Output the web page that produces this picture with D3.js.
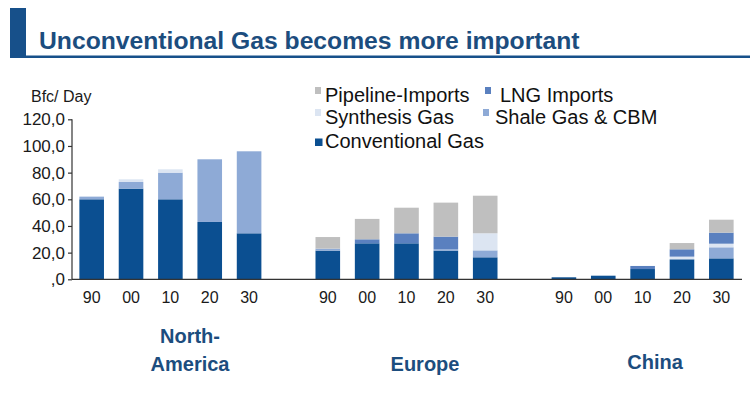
<!DOCTYPE html>
<html lang="en">
<head>
<meta charset="UTF-8">
<title>Unconventional Gas becomes more important</title>
<script src="https://d3js.org/d3.v7.min.js"></script>
<style>
  * { margin: 0; padding: 0; box-sizing: border-box; }
  html, body { width: 750px; height: 398px; background: #fff; overflow: hidden; }
  svg { display: block; font-family: "Liberation Sans", Arial, sans-serif; }
  .axis text { font-size: 17px; fill: #1a1a1a; }
  .axis path, .axis line { stroke: #333; stroke-width: 1.2; }
</style>
</head>
<body>
<svg id="chart" width="750" height="398"></svg>
<script>
// data (Bfc/ Day)
const regions = ["North-America", "Europe", "China"];
const years = ["90", "00", "10", "20", "30"];
const yTicks = [0, 20, 40, 60, 80, 100, 120];

// one value per bar: North-America 90..30, Europe 90..30, China 90..30
const conventional = [60, 68, 60, 43, 34.5,   21.5, 27, 27, 21.5, 16.5,   1.5, 2.7, 7.7, 15, 15.7];
const shale        = [2, 5, 20, 47, 61.5,     1.5, 0, 0, 1, 5.2,          0, 0, 0, 0, 8.3];
const synthesis    = [0, 2, 2.5, 0, 0,        0, 0, 0, 0, 12.8,           0, 0, 0, 2, 2.7];
const lng          = [0, 0, 0, 0, 0,          0, 3, 7.5, 9.5, 0,          0, 0, 2.3, 5.5, 8.3];
const pipeline     = [0, 0, 0, 0, 0,          8.7, 15.3, 19.2, 25.5, 28.2, 0, 0, 0, 4.7, 9.7];

// stacking order bottom -> top
const series = [
  { name: "Conventional Gas", values: conventional, color: "#0b4f91" },
  { name: "Shale Gas & CBM",  values: shale,        color: "#8eaad6" },
  { name: "Synthesis Gas",    values: synthesis,    color: "#dce5f2" },
  { name: "LNG Imports",      values: lng,          color: "#5a80bf" },
  { name: "Pipeline-Imports", values: pipeline,     color: "#bfbfbf" }
];

const svg = d3.select("#chart");

// header
svg.append("rect").attr("x", 10).attr("y", 8).attr("width", 16).attr("height", 50)
  .attr("fill", "#17508a");
svg.append("rect").attr("x", 10).attr("y", 55.5).attr("width", 740).attr("height", 2.5)
  .attr("fill", "#17508a");
svg.append("text").attr("x", 39).attr("y", 49)
  .attr("font-size", 24.7).attr("font-weight", "bold").attr("fill", "#1c4d7e")
  .text("Unconventional Gas becomes more important");

// slots: 5 bars per region with one empty slot between regions
const slots = [];
regions.forEach((r, i) => {
  if (i > 0) slots.push("gap" + i);
  years.forEach(y => slots.push(r + "|" + y));
});

const x = d3.scaleBand().domain(slots).range([72, 741])
  .paddingInner(0.375).paddingOuter(0.1875);
const y = d3.scaleLinear().domain([0, 120]).range([279.3, 119.3]);

// rows for stacking
const rows = [];
regions.forEach((r, ri) => {
  years.forEach((yr, yi) => {
    const idx = ri * years.length + yi;
    const row = { key: r + "|" + yr };
    series.forEach(s => { row[s.name] = s.values[idx]; });
    rows.push(row);
  });
});

const stack = d3.stack().keys(series.map(s => s.name));
const layers = stack(rows);

svg.append("g").selectAll("g")
  .data(layers)
  .join("g")
  .attr("fill", (d, i) => series[i].color)
  .selectAll("rect")
  .data(d => d.filter(p => p[1] - p[0] > 0))
  .join("rect")
  .attr("x", d => x(d.data.key))
  .attr("width", x.bandwidth())
  .attr("y", d => y(d[1]))
  .attr("height", d => y(d[0]) - y(d[1]));

// y axis
const yAxis = svg.append("g").attr("class", "axis")
  .attr("transform", "translate(72,0)")
  .call(d3.axisLeft(y).tickValues(yTicks).tickSize(4).tickPadding(3)
    .tickFormat(d => d === 0 ? ",0" : d + ",0"));
yAxis.select(".domain").attr("d", `M0,${y(120)}V${y(0)}`);

// x baseline
svg.append("line").attr("x1", 72).attr("x2", 742)
  .attr("y1", y(0)).attr("y2", y(0))
  .attr("stroke", "#333").attr("stroke-width", 1.2);

// year labels
svg.append("g").selectAll("text")
  .data(rows)
  .join("text")
  .attr("x", d => x(d.key) + x.bandwidth() / 2)
  .attr("y", 303)
  .attr("text-anchor", "middle")
  .attr("font-size", 16)
  .attr("fill", "#1a1a1a")
  .text(d => d.key.split("|")[1]);

svg.append("text").attr("x", 31).attr("y", 101.5)
  .attr("font-size", 16).attr("fill", "#1a1a1a").text("Bfc/ Day");

// region labels
const regionLabels = [
  { lines: ["North-", "America"], cx: 190, y: [343, 371] },
  { lines: ["Europe"], cx: 425, y: [371] },
  { lines: ["China"], cx: 655, y: [369] }
];
regionLabels.forEach(l => {
  l.lines.forEach((t, i) => {
    svg.append("text").attr("x", l.cx).attr("y", l.y[i])
      .attr("text-anchor", "middle").attr("font-size", 20)
      .attr("font-weight", "bold").attr("fill", "#1c4d7e").text(t);
  });
});

// legend
const legendItems = [
  { name: "Pipeline-Imports", sx: 315, tx: 325, by: 102, sq: [6, 7], top: true },
  { name: "LNG Imports",      sx: 485, tx: 500, by: 102, sq: [6, 7], top: true },
  { name: "Synthesis Gas",    sx: 315, tx: 325, by: 124, sq: [6, 7], top: true },
  { name: "Shale Gas & CBM",  sx: 483, tx: 495, by: 124, sq: [6, 7], top: true },
  { name: "Conventional Gas", sx: 315, tx: 325, by: 147.5, sq: [7.5, 7.5], top: false }
];
const colorOf = d3.scaleOrdinal().domain(series.map(s => s.name)).range(series.map(s => s.color));
const legend = svg.append("g");
legendItems.forEach(it => {
  legend.append("rect")
    .attr("x", it.sx)
    .attr("y", it.top ? it.by - 15 : it.by - 9)
    .attr("width", it.sq[0]).attr("height", it.sq[1])
    .attr("fill", colorOf(it.name));
  legend.append("text").attr("x", it.tx).attr("y", it.by)
    .attr("font-size", 20).attr("fill", "#111").text(it.name);
});
</script>
</body>
</html>
